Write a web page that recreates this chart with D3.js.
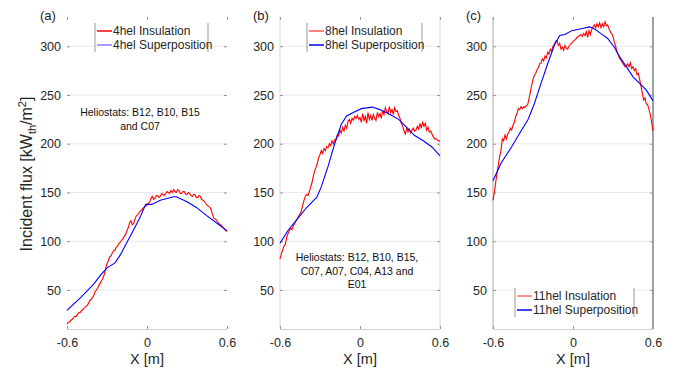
<!DOCTYPE html>
<html>
<head>
<meta charset="utf-8">
<script src="https://cdn.jsdelivr.net/npm/d3@7"></script>
<style>
  body { margin: 0; background: #fff; }
  text { font-family: "Liberation Sans", Arial, sans-serif; }
</style>
</head>
<body>
<div id="chart"></div>
<script>
// sample positions of the measured (insulation) curves, 0.01 m apart
var xsMeas = [
  -0.60,-0.59,-0.58,-0.57,-0.56,-0.55,-0.54,-0.53,-0.52,-0.51,
  -0.50,-0.49,-0.48,-0.47,-0.46,-0.45,-0.44,-0.43,-0.42,-0.41,
  -0.40,-0.39,-0.38,-0.37,-0.36,-0.35,-0.34,-0.33,-0.32,-0.31,
  -0.30,-0.29,-0.28,-0.27,-0.26,-0.25,-0.24,-0.23,-0.22,-0.21,
  -0.20,-0.19,-0.18,-0.17,-0.16,-0.15,-0.14,-0.13,-0.12,-0.11,
  -0.10,-0.09,-0.08,-0.07,-0.06,-0.05,-0.04,-0.03,-0.02,-0.01,
  0.00,0.01,0.02,0.03,0.04,0.05,0.06,0.07,0.08,0.09,
  0.10,0.11,0.12,0.13,0.14,0.15,0.16,0.17,0.18,0.19,
  0.20,0.21,0.22,0.23,0.24,0.25,0.26,0.27,0.28,0.29,
  0.30,0.31,0.32,0.33,0.34,0.35,0.36,0.37,0.38,0.39,
  0.40,0.41,0.42,0.43,0.44,0.45,0.46,0.47,0.48,0.49,
  0.50,0.51,0.52,0.53,0.54,0.55,0.56,0.57,0.58,0.59,
  0.60];

var ins4 = [
  15,17,17,19,20,22,23,23,25,27,
  27,29,30,32,33,34,36,39,40,42,
  44,48,50,52,55,57,60,62,66,72,
  77,80,84,85,88,90,91,94,95,98,
  99,101,103,105,107,111,114,119,121,117,
  118,123,126,127,129,131,132,134,135,136,
  137,139,140,144,146,143,144,147,147,145,
  146,149,148,147,149,151,150,149,152,150,
  153,151,150,153,152,149,149,151,151,148,
  148,150,149,147,146,148,148,145,145,147,
  146,143,142,141,139,137,136,135,133,128,
  124,123,122,120,118,117,116,114,113,111,
  110];
var ins8 = [
  82,87,91,95,97,104,108,111,113,112,
  116,118,121,123,126,128,131,137,142,146,
  148,147,151,156,160,167,172,176,180,186,
  189,193,190,195,193,197,196,200,198,203,
  200,204,205,209,208,214,211,217,213,219,
  216,223,225,221,226,224,228,226,229,225,
  227,222,231,224,228,221,232,225,229,224,
  230,226,224,232,228,231,226,234,230,237,
  233,231,238,232,235,230,237,233,234,229,
  226,221,218,213,210,216,212,215,211,214,
  216,213,214,218,215,221,216,222,218,221,
  214,217,212,213,210,207,205,205,204,203,
  203];
var ins11 = [
  142,150,160,170,178,187,193,205,203,209,
  205,210,212,216,214,219,222,228,231,236,
  235,238,236,238,237,239,240,246,253,260,
  266,270,272,276,278,282,283,287,285,290,
  288,294,292,297,295,300,302,305,306,301,
  303,297,299,296,301,298,297,300,302,303,
  305,306,307,309,310,311,312,310,313,311,
  315,309,316,312,317,320,322,319,323,320,
  324,319,323,320,325,321,322,318,315,313,
  310,304,300,294,291,287,286,283,281,279,
  280,282,279,283,277,279,275,277,271,272,
  266,259,252,245,247,241,240,235,230,222,
  213];

// superposition (simulated) curves
var xsSup4 = [-0.6,-0.5,-0.4,-0.35,-0.3,-0.24,-0.2,-0.15,-0.1,-0.05,-0.01,0.035,0.1,0.2,0.22,0.3,0.37,0.45,0.52,0.6];
var sup4   = [29,42,56,65,72.7,77.8,86,99,111.7,125,137.8,137.8,142,145.6,145.6,140.5,134.7,126,119,110.7];

var xsSup8 = [-0.6,-0.54,-0.46,-0.4,-0.34,-0.325,-0.29,-0.24,-0.19,-0.14,-0.1,-0.05,0.01,0.09,0.15,0.225,0.29,0.35,0.41,0.475,0.54,0.6];
var sup8   = [98,111,124.5,134.6,143,144.6,156,176.5,200,220,228.5,232,236,237.6,235,230,225,216.8,208.4,203,196.7,187.6];

var xsSup11 = [-0.6,-0.54,-0.46,-0.4,-0.34,-0.29,-0.24,-0.19,-0.14,-0.1,-0.06,-0.01,0.06,0.125,0.16,0.21,0.26,0.31,0.36,0.41,0.45,0.5,0.55,0.6];
var sup11   = [162,180,197,210.7,224,241,262,282,301,311,312,316,318,319.8,318,313,308,299,287,277,268.6,262,255,244];

var yTicks = [50, 100, 150, 200, 250, 300];
var xTicks = [-0.6, 0, 0.6];
var panelLabels = ["(a)", "(b)", "(c)"];
var legendNames = [["4hel Insulation", "4hel Superposition"],
                   ["8hel Insulation", "8hel Superposition"],
                   ["11hel Insulation", "11hel Superposition"]];
var notes = [["Heliostats: B12, B10, B15", "and C07"],
             ["Heliostats: B12, B10, B15,", "C07, A07, C04, A13 and", "E01"],
             []];

var w = 675, h = 371;
var plotTop = 17, plotBottom = 329;
var lefts = [67, 280, 493];
var pw = 160;

var svg = d3.select("#chart").append("svg")
    .attr("width", w).attr("height", h);

var y = d3.scaleLinear().domain([10, 330]).range([plotBottom, plotTop]);

// side borders differ a bit between the three panels
var panels = [
  { meas: ins4, xsSup: xsSup4, sup: sup4, sides: [null, null],
    legX: 95, legY: 23, legW: 113, legCol: ["#ff0000", "#8080ff"], noteX: 140, noteY: 116 },
  { meas: ins8, xsSup: xsSup8, sup: sup8, sides: ["#d4d4d4", "#d4d4d4"],
    legX: 307, legY: 23, legW: 115, legCol: ["#ff5a5a", "#0000ff"], noteX: 357, noteY: 261 },
  { meas: ins11, xsSup: xsSup11, sup: sup11, sides: ["#a8a8a8", "#6e6e6e"],
    legX: 515, legY: 288, legW: 119, legCol: ["#ff7070", "#0000ff"], noteX: 0, noteY: 0 }
];

var fmt = d => d === 0 ? "0" : (d < 0 ? "-" : "") + Math.abs(d);

panels.forEach(function(p, i) {
    var x = d3.scaleLinear().domain([-0.6, 0.6]).range([lefts[i], lefts[i] + pw]);
    var g = svg.append("g");

    // grid
    g.selectAll(".grid").data(yTicks).enter().append("line")
        .attr("x1", x(-0.6)).attr("x2", x(0.6))
        .attr("y1", d => y(d)).attr("y2", d => y(d))
        .attr("stroke", "#e8e8e8").attr("stroke-width", 1);

    // bottom line and side borders
    g.append("line").attr("x1", x(-0.6)).attr("x2", x(0.6))
        .attr("y1", plotBottom + 0.5).attr("y2", plotBottom + 0.5)
        .attr("stroke", "#d0d0d0");
    [x(-0.6), x(0.6)].forEach(function(sx, k) {
        if (!p.sides[k]) return;
        g.append("line").attr("x1", sx).attr("x2", sx).attr("y1", plotTop).attr("y2", plotBottom)
            .attr("stroke", p.sides[k]).attr("stroke-width", k === 1 && i === 2 ? 1.3 : 1);
    });

    // axes (inward ticks)
    var yAx = g.append("g").attr("transform", `translate(${x(-0.6)},0)`)
        .call(d3.axisLeft(y).tickValues(yTicks).tickSize(-3).tickPadding(6));
    var yAxR = g.append("g").attr("transform", `translate(${x(0.6)},0)`)
        .call(d3.axisRight(y).tickValues(yTicks).tickSize(-3).tickFormat(""));
    var xAx = g.append("g").attr("transform", `translate(0,${plotBottom})`)
        .call(d3.axisBottom(x).tickValues(xTicks).tickSize(-3).tickPadding(9).tickFormat(fmt));
    var xAxT = g.append("g").attr("transform", `translate(0,${plotTop})`)
        .call(d3.axisTop(x).tickValues(xTicks).tickSize(-3).tickFormat(""));
    [yAx, yAxR, xAx, xAxT].forEach(function(a) {
        a.select(".domain").remove();
        a.selectAll(".tick line").attr("stroke", "#999");
        a.selectAll("text").attr("fill", "#262626")
            .style("font-size", "12.5px").style("font-family", "'Liberation Sans', Arial, sans-serif");
    });

    // curves
    var line = d3.line().x(d => x(d[0])).y(d => y(d[1]));
    g.append("path")
        .datum(xsMeas.map((v, k) => [v, p.meas[k]]))
        .attr("d", line).attr("fill", "none")
        .attr("stroke", "#ff0000").attr("stroke-width", 1.1);
    g.append("path")
        .datum(p.xsSup.map((v, k) => [v, p.sup[k]]))
        .attr("d", line).attr("fill", "none")
        .attr("stroke", "#0000ff").attr("stroke-width", 1.1);

    // panel label
    svg.append("text").attr("x", lefts[i] - 27).attr("y", 20)
        .style("font-size", "13px").attr("fill", "#222").text(panelLabels[i]);

    // x label
    svg.append("text").attr("x", x(0)).attr("y", 364)
        .attr("text-anchor", "middle").style("font-size", "14.5px").attr("fill", "#262626")
        .text("X [m]");

    // legend
    var lg = svg.append("g");
    lg.append("rect").attr("x", p.legX).attr("y", p.legY).attr("width", p.legW).attr("height", 29)
        .attr("fill", "#fff").attr("stroke", "none");
    [p.legX, p.legX + p.legW].forEach(function(lx) {
        lg.append("line").attr("x1", lx).attr("x2", lx).attr("y1", p.legY).attr("y2", p.legY + 29)
            .attr("stroke", "#999");
    });
    legendNames[i].forEach(function(name, k) {
        var ly = p.legY + 8 + k * 14;
        lg.append("line").attr("x1", p.legX + 2).attr("x2", p.legX + 17)
            .attr("y1", ly).attr("y2", ly)
            .attr("stroke", p.legCol[k]).attr("stroke-width", 1.5);
        lg.append("text").attr("x", p.legX + 18).attr("y", ly + 4)
            .style("font-size", "12px").attr("fill", "#262626").text(name);
    });

    // annotation
    notes[i].forEach(function(t, k) {
        svg.append("text").attr("x", p.noteX).attr("y", p.noteY + k * 13.5)
            .attr("text-anchor", "middle").style("font-size", "10.5px").attr("fill", "#111")
            .text(t);
    });
});

// y axis title
var yt = svg.append("text")
    .attr("transform", "translate(32,174) rotate(-90)")
    .attr("text-anchor", "middle").style("font-size", "16px").attr("fill", "#262626");
yt.append("tspan").text("Incident flux [kW");
yt.append("tspan").attr("dy", 4).style("font-size", "11px").text("th");
yt.append("tspan").attr("dy", -4).text("/m");
yt.append("tspan").attr("dy", -6).style("font-size", "11px").text("2");
yt.append("tspan").attr("dy", 6).text("]");
</script>
</body>
</html>
